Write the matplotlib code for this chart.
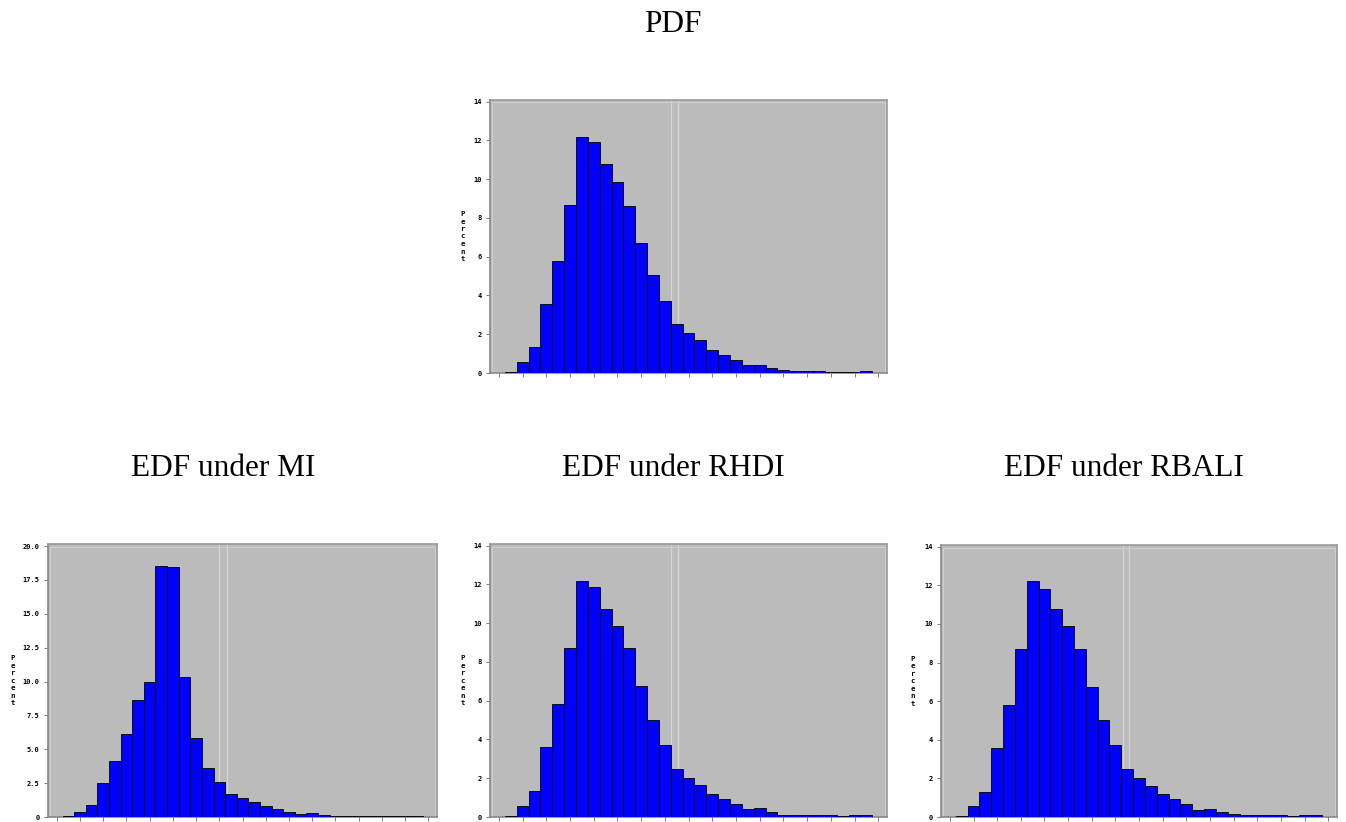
import matplotlib
matplotlib.use("Agg")
import matplotlib.pyplot as plt
from matplotlib.patches import Rectangle
import numpy as np

# ---- data (percent per bin, 31 bins) ----
pdf_vals = [0.05, 0.55, 1.36, 3.56, 5.8, 8.68, 12.18, 11.92, 10.77, 9.86, 8.64, 6.7,
            5.05, 3.73, 2.51, 2.06, 1.7, 1.19, 0.91, 0.67, 0.4, 0.43, 0.27, 0.14,
            0.09, 0.12, 0.12, 0.07, 0.07, 0.07, 0.09]
mi_vals = [0.1, 0.35, 0.9, 2.5, 4.1, 6.1, 8.6, 10.0, 18.5, 18.45, 10.3, 5.8,
           3.65, 2.6, 1.7, 1.4, 1.1, 0.8, 0.6, 0.4, 0.25, 0.28, 0.17, 0.1,
           0.07, 0.1, 0.1, 0.07, 0.07, 0.07, 0.08]
rhdi_vals = [0.07, 0.55, 1.32, 3.6, 5.82, 8.7, 12.2, 11.85, 10.75, 9.88, 8.7, 6.75,
             5.0, 3.73, 2.5, 2.03, 1.63, 1.19, 0.95, 0.67, 0.4, 0.48, 0.26, 0.12,
             0.1, 0.12, 0.12, 0.1, 0.07, 0.1, 0.1]
rbali_vals = [0.07, 0.55, 1.32, 3.6, 5.82, 8.7, 12.23, 11.8, 10.75, 9.88, 8.7, 6.72,
              5.03, 3.71, 2.47, 2.03, 1.63, 1.19, 0.93, 0.67, 0.38, 0.43, 0.26, 0.14,
              0.1, 0.12, 0.12, 0.1, 0.07, 0.09, 0.09]

titles = ["PDF", "EDF under MI", "EDF under RHDI", "EDF under RBALI"]
yticks_small = [0, 2, 4, 6, 8, 10, 12, 14]
ytick_labels_small = ["0", "2", "4", "6", "8", "10", "12", "14"]
yticks_mi = [0, 2.5, 5.0, 7.5, 10.0, 12.5, 15.0, 17.5, 20.0]
ytick_labels_mi = ["0", "2.5", "5.0", "7.5", "10.0", "12.5", "15.0", "17.5", "20.0"]
ref_lines = [(14.04, 14.6), (13.5, 14.14), (14.04, 14.6), (14.14, 14.62)]

W, H = 1346, 822
fig = plt.figure(figsize=(W / 100, H / 100), dpi=100)

def px_axes(left, top, right, bottom):
    return fig.add_axes([left / W, 1 - bottom / H, (right - left) / W, (bottom - top) / H])

boxes = [(490, 100, 887, 373), (48, 544, 437, 817), (490, 544, 887, 817), (941, 545, 1337, 817)]
data = [pdf_vals, mi_vals, rhdi_vals, rbali_vals]
ytop = [14.09, 20.15, 14.09, 14.09]
title_pos = [(673, 32), (223, 476), (673, 476), (1124, 476)]
label_x = [463, 13, 463, 913]

for k in range(4):
    ax = px_axes(*boxes[k])
    vals = data[k]
    x = np.arange(len(vals))
    ax.set_facecolor("#bbbbbb")
    ax.bar(x, vals, width=1.0, align="edge", color="#0000ff", edgecolor="black",
           linewidth=0.6, zorder=3)
    for xl in ref_lines[k]:
        ax.axvline(xl, color="#d4d4d4", linewidth=1.0, zorder=2)
    ax.set_xlim(-1.25, len(vals) + 1.24)
    ax.set_ylim(0, ytop[k])
    ax.set_xticks(np.arange(-0.5, 32, 2))
    ax.set_xticklabels([])
    if k == 1:
        ax.set_yticks(yticks_mi)
        ax.set_yticklabels(ytick_labels_mi)
    else:
        ax.set_yticks(yticks_small)
        ax.set_yticklabels(ytick_labels_small)
    ax.tick_params(axis="both", direction="out", length=3, width=0.6, color="#666666",
                   labelsize=5, pad=3)
    for lab in ax.get_yticklabels():
        lab.set_fontweight("bold")
        lab.set_family("DejaVu Sans Mono")
    for s in ax.spines.values():
        s.set_color("#999999")
        s.set_linewidth(1.2)
    ax.spines["left"].set_color("#888888")
    ax.spines["bottom"].set_color("#888888")
    # inner light bevel line
    bw, bh = boxes[k][2] - boxes[k][0], boxes[k][3] - boxes[k][1]
    ax.add_patch(Rectangle((2.0 / bw, 0), 1 - 4.0 / bw, 1 - 2.5 / bh, transform=ax.transAxes,
                           fill=False, edgecolor="#cfcfcf", linewidth=0.8, zorder=2.5))
    # stacked "Percent" label
    cx = label_x[k]
    cy = (boxes[k][1] + boxes[k][3]) / 2
    fig.text(cx / W, 1 - cy / H, "\n".join("Percent"), ha="center", va="center",
             fontsize=5.3, fontweight="bold", family="DejaVu Sans Mono", linespacing=1.3)
    tx, ty = title_pos[k]
    fig.text(tx / W, 1 - ty / H, titles[k], ha="center", va="baseline",
             fontsize=22.5, family="Liberation Serif")

fig.savefig("out.png", dpi=100)
